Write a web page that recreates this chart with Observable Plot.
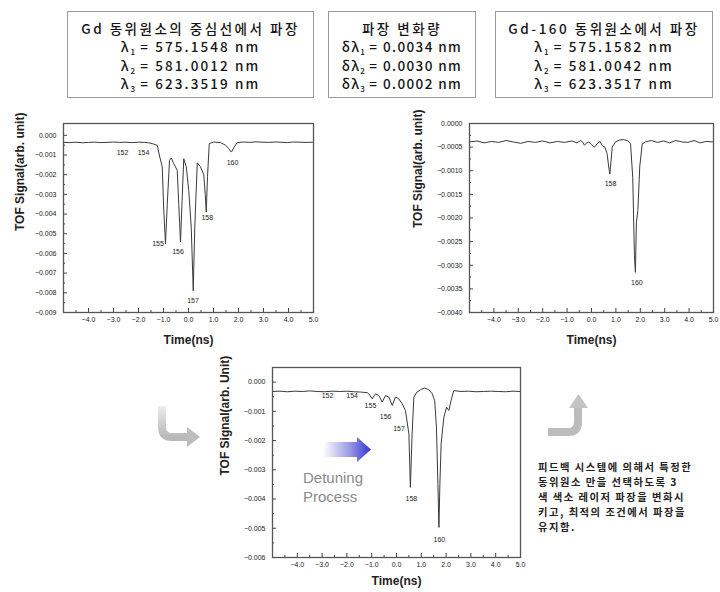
<!DOCTYPE html>
<html><head><meta charset="utf-8">
<script src="https://cdn.jsdelivr.net/npm/d3@7"></script>
<script src="https://cdn.jsdelivr.net/npm/@observablehq/plot@0.6"></script>
<style>
html,body{margin:0;padding:0;background:#fff;}
#root{position:relative;width:720px;height:592px;overflow:hidden;background:#fff;font-family:"Noto Sans CJK KR","Noto Sans",sans-serif;}
.box{position:absolute;border:1.5px solid #9a9a9a;box-sizing:border-box;text-align:center;color:#151515;font-size:13.5px;font-weight:500;padding-top:7px;white-space:nowrap;}
.box div{height:18.4px;line-height:18.4px;overflow:visible;}
.box .t{letter-spacing:2.5px;}
.box .l{letter-spacing:2.1px;}
.box .d{letter-spacing:1.4px;}
.box sub{font-size:8px;vertical-align:baseline;position:relative;top:3px;letter-spacing:0;line-height:0;}
.pl{position:absolute;}
#deco{position:absolute;left:0;top:0;}
</style></head><body><div id="root"></div>
<script>
// ---------- data ----------
const xTicks = [-4, -3, -2, -1, 0, 1, 2, 3, 4, 5];
const xMinor = [-4.5, -3.5, -2.5, -1.5, -0.5, 0.5, 1.5, 2.5, 3.5, 4.5];

const naturalYTicks = [0, -0.001, -0.002, -0.003, -0.004, -0.005, -0.006, -0.007, -0.008, -0.009];
const naturalYMinor = [-0.0005, -0.0015, -0.0025, -0.0035, -0.0045, -0.0055, -0.0065, -0.0075, -0.0085];
const gd160YTicks = [0, -0.0005, -0.001, -0.0015, -0.002, -0.0025, -0.003, -0.0035, -0.004];
const gd160YMinor = [-0.00025, -0.00075, -0.00125, -0.00175, -0.00225, -0.00275, -0.00325, -0.00375];
const detunedYTicks = [0, -0.001, -0.002, -0.003, -0.004, -0.005, -0.006];
const detunedYMinor = [-0.0005, -0.0015, -0.0025, -0.0035, -0.0045, -0.0055];

const naturalTime = [-5.0,-4.75,-4.5,-4.25,-4.0,-3.75,-3.5,-3.25,-3.0,-2.75,-2.5,-2.25,-2.0,-1.75,-1.6,-1.45,-1.25,-1.15,-1.05,-0.99,-0.92,-0.85,-0.76,-0.69,-0.59,-0.45,-0.39,-0.32,-0.25,-0.19,-0.09,0.01,0.11,0.19,0.25,0.35,0.48,0.61,0.67,0.71,0.76,0.83,1.01,1.28,1.48,1.61,1.72,1.81,1.95,2.2,2.45,2.7,2.95,3.2,3.45,3.7,3.95,4.2,4.45,4.7,4.95,5.0];
const naturalSignal = [-0.00036,-0.00037,-0.00035,-0.00038,-0.00036,-0.00035,-0.00037,-0.00036,-0.00034,-0.00036,-0.00035,-0.00037,-0.00035,-0.00036,-0.00038,-0.00042,-0.00051,-0.0011,-0.0016,-0.0038,-0.0055,-0.0035,-0.00127,-0.00115,-0.00144,-0.00178,-0.0035,-0.00542,-0.0031,-0.00119,-0.0016,-0.0028,-0.0047,-0.0079,-0.0047,-0.0014,-0.0016,-0.002,-0.003,-0.0039,-0.0021,-0.00042,-0.00034,-0.00037,-0.0005,-0.00068,-0.00085,-0.00063,-0.00037,-0.00034,-0.00036,-0.00033,-0.00035,-0.00036,-0.00034,-0.00035,-0.00037,-0.00034,-0.00035,-0.00036,-0.00035,-0.00035];
const naturalPeakLabels = ["152","154","155","156","157","158","160"];
const naturalPeakX = [-2.64,-1.8,-1.22,-0.42,0.18,0.75,1.76];
const naturalPeakY = [-0.0009,-0.0009,-0.0055,-0.0059,-0.0084,-0.0042,-0.0014];

const gd160Time = [-5.0,-4.7,-4.4,-4.1,-3.8,-3.5,-3.2,-2.9,-2.6,-2.3,-2.0,-1.7,-1.4,-1.1,-0.8,-0.6,-0.45,-0.35,-0.29,-0.2,-0.11,0.0,0.12,0.23,0.35,0.44,0.55,0.64,0.7,0.75,0.8,0.85,0.98,1.15,1.32,1.5,1.6,1.69,1.76,1.8,1.84,1.9,1.98,2.08,2.21,2.45,2.7,2.95,3.2,3.45,3.7,3.95,4.2,4.45,4.7,5.0];
const gd160Signal = [-0.00039,-0.00037,-0.00041,-0.00038,-0.0004,-0.00036,-0.00039,-0.00042,-0.00038,-0.0004,-0.00037,-0.00041,-0.00038,-0.0004,-0.00037,-0.00041,-0.00036,-0.0004,-0.00046,-0.00041,-0.00039,-0.00045,-0.0005,-0.00043,-0.00038,-0.00047,-0.0005,-0.00064,-0.0009,-0.00107,-0.0008,-0.0005,-0.00039,-0.00035,-0.00034,-0.00037,-0.00043,-0.00114,-0.0028,-0.00315,-0.0021,-0.00184,-0.0009,-0.00043,-0.00039,-0.00036,-0.0004,-0.00037,-0.00041,-0.00036,-0.00039,-0.0004,-0.00036,-0.00041,-0.00038,-0.00039];
const gd160PeakLabels = ["158","160"];
const gd160PeakX = [0.78,1.86];
const gd160PeakY = [-0.00127,-0.00336];

const detunedTime = [-5.0,-4.7,-4.4,-4.1,-3.8,-3.5,-3.2,-2.9,-2.6,-2.3,-2.0,-1.7,-1.45,-1.18,-1.12,-0.98,-0.85,-0.71,-0.58,-0.44,-0.31,-0.17,-0.04,0.09,0.23,0.36,0.5,0.56,0.63,0.7,0.83,0.97,1.13,1.3,1.44,1.54,1.61,1.67,1.71,1.75,1.8,1.91,2.02,2.11,2.2,2.31,2.6,2.9,3.2,3.5,3.8,4.1,4.4,4.7,5.0];
const detunedSignal = [-0.00032,-0.00031,-0.00033,-0.00031,-0.00032,-0.0003,-0.00032,-0.00033,-0.00031,-0.00032,-0.00031,-0.00033,-0.00034,-0.00036,-0.0004,-0.00057,-0.0004,-0.00046,-0.00068,-0.00046,-0.00051,-0.0008,-0.00051,-0.00057,-0.00074,-0.00097,-0.00177,-0.0036,-0.00177,-0.00051,-0.00034,-0.00026,-0.0002,-0.00026,-0.0004,-0.00063,-0.00154,-0.00348,-0.00497,-0.00348,-0.00211,-0.0012,-0.00086,-0.00097,-0.00063,-0.00029,-0.00032,-0.00031,-0.00033,-0.00032,-0.00031,-0.00032,-0.00033,-0.00031,-0.00032];
const detunedPeakLabels = ["152","154","155","156","157","158","160"];
const detunedPeakX = [-2.78,-1.79,-1.05,-0.44,0.1,0.6,1.73];
const detunedPeakY = [-0.00045,-0.00045,-0.00082,-0.0012,-0.0016,-0.004,-0.0054];

const box1Lines = ["Gd 동위원소의 중심선에서 파장", ["λ","1"," = 575.1548 nm"], ["λ","2"," = 581.0012 nm"], ["λ","3"," = 623.3519 nm"]];
const box2Lines = ["파장 변화량", ["δλ","1"," = 0.0034 nm"], ["δλ","2"," = 0.0030 nm"], ["δλ","3"," = 0.0002 nm"]];
const box3Lines = ["Gd-160 동위원소에서 파장", ["λ","1"," = 575.1582 nm"], ["λ","2"," = 581.0042 nm"], ["λ","3"," = 623.3517 nm"]];
const captionLines = ["피드백 시스템에 의해서 특정한", "동위원소 만을 선택하도록 3", "색 색소 레이저 파장을 변화시", "키고, 최적의 조건에서 파장을", "유지함."];
const xTitle = "Time(ns)";
const yTitle = "TOF Signal(arb. unit)";
const yTitleBottom = "TOF Signal(arb. Unit)";

// ---------- build ----------
const root = document.getElementById("root");
const font = "'Liberation Sans', Arial, sans-serif";

function table(ts, vs) { return ts.map((t, i) => ({t, v: vs[i]})); }
function labelTable(names, xs, ys) { return names.map((n, i) => ({n, x: xs[i], y: ys[i]})); }

function chart(o) {
  const svg = Plot.plot({
    width: o.width, height: o.height,
    marginLeft: o.ml, marginRight: o.mr, marginTop: o.mt, marginBottom: o.mb,
    style: {fontFamily: font, fontSize: "7px", color: "#222", background: "transparent", overflow: "visible"},
    x: {domain: [-5, 5]},
    y: {domain: o.yDomain},
    marks: [
      Plot.axisX(xTicks, {tickFormat: d3.format(".1f"), tickSize: -4, tickPadding: 9, label: null, fontSize: 7, stroke: "#444"}),
      Plot.axisX(xMinor, {tickFormat: () => "", tickSize: -2, label: null, stroke: "#444"}),
      Plot.axisY(o.yTicks, {tickFormat: d3.format(o.yFmt), tickSize: -4, tickPadding: 11, label: null, fontSize: 7, stroke: "#444"}),
      Plot.axisY(o.yMinor, {tickFormat: () => "", tickSize: -2, label: null, stroke: "#444"}),
      Plot.line(table(o.ts, o.vs), {x: "t", y: "v", stroke: "#3a3a3a", strokeWidth: 1}),
      Plot.frame({stroke: "#555", strokeWidth: 1.3}),
      Plot.text(labelTable(o.ln, o.lx, o.ly), {x: "x", y: "y", text: "n", fontSize: 7, fill: "#222"}),
      Plot.text([xTitle], {text: d => d, frameAnchor: "bottom", dy: o.xtDy, fontWeight: "bold", fontSize: 12, fill: "#222"}),
      Plot.text([o.yTitle], {text: d => d, frameAnchor: "left", rotate: -90, dx: o.ytDx, dy: o.ytDy, fontWeight: "bold", fontSize: 12, fill: "#222"})
    ]
  });
  svg.classList.add("pl");
  svg.style.left = o.left + "px";
  svg.style.top = o.top + "px";
  root.appendChild(svg);
}

chart({left: 0, top: 110, width: 330, height: 250, ml: 63, mr: 17, mt: 13, mb: 48,
  yDomain: [-0.009, 0.0006], yTicks: naturalYTicks, yMinor: naturalYMinor, yFmt: ".3f",
  ts: naturalTime, vs: naturalSignal, ln: naturalPeakLabels, lx: naturalPeakX, ly: naturalPeakY,
  xtDy: 31, yTitle: yTitle, ytDx: -43, ytDy: 13});
chart({left: 380, top: 110, width: 340, height: 250, ml: 89, mr: 7, mt: 13, mb: 48,
  yDomain: [-0.004, 0], yTicks: gd160YTicks, yMinor: gd160YMinor, yFmt: ".4f",
  ts: gd160Time, vs: gd160Signal, ln: gd160PeakLabels, lx: gd160PeakX, ly: gd160PeakY,
  xtDy: 31, yTitle: yTitle, ytDx: -51, ytDy: 10});
chart({left: 200, top: 360, width: 330, height: 232, ml: 72, mr: 10, mt: 7, mb: 35,
  yDomain: [-0.006, 0.0005], yTicks: detunedYTicks, yMinor: detunedYMinor, yFmt: ".3f",
  ts: detunedTime, vs: detunedSignal, ln: detunedPeakLabels, lx: detunedPeakX, ly: detunedPeakY,
  xtDy: 27, yTitle: yTitleBottom, ytDx: -47, ytDy: 13});

// top boxes
function box(lines, left, top, w, h, rowClass) {
  const d = document.createElement("div");
  d.className = "box";
  Object.assign(d.style, {left: left + "px", top: top + "px", width: w + "px", height: h + "px"});
  lines.forEach((l, i) => {
    const row = document.createElement("div");
    if (typeof l === "string") { row.textContent = l; row.className = "t"; }
    else { row.innerHTML = `${l[0]}<sub>${l[1]}</sub>${l[2]}`; row.className = rowClass; }
    d.appendChild(row);
  });
  root.appendChild(d);
}
box(box1Lines, 67, 11, 247, 87, "l");
box(box2Lines, 328, 11, 148, 87, "d");
box(box3Lines, 495, 11, 218, 87, "l");

// decorations
const ns = "http://www.w3.org/2000/svg";
const deco = document.createElementNS(ns, "svg");
deco.setAttribute("id", "deco");
deco.setAttribute("width", 720);
deco.setAttribute("height", 592);
deco.innerHTML = `
<defs>
 <linearGradient id="blue" x1="0" x2="1" y1="0" y2="0">
  <stop offset="0" stop-color="#ffffff"/><stop offset="0.55" stop-color="#9a9ae6"/><stop offset="1" stop-color="#3434d4"/>
 </linearGradient>
 <linearGradient id="grayV" x1="0" x2="0" y1="0" y2="1">
  <stop offset="0" stop-color="#ececec"/><stop offset="1" stop-color="#b9b9b9"/>
 </linearGradient>
</defs>
<path d="M323,442 L357,442 L357,437 L371,449.5 L357,462 L357,457 L323,457 Z" fill="url(#blue)"/>
<text x="303" y="483" font-family="Liberation Sans, Arial" font-size="15" fill="#8a8a8a">Detuning</text>
<text x="303" y="502" font-family="Liberation Sans, Arial" font-size="15" fill="#8a8a8a">Process</text>
<path d="M162,406 L162,427 Q162,437 172,437 L189,437" fill="none" stroke="url(#grayV)" stroke-width="8"/>
<path d="M187,427 L200,437 L187,447 Z" fill="#bdbdbd"/>
<path d="M548,432 L568,432 Q578,432 578,422 L578,406" fill="none" stroke="#bcbcbc" stroke-width="8"/>
<path d="M569,408 L578.5,394 L588,408 Z" fill="#c4c4c4"/>
`;
captionLines.forEach((s, i) => {
  const t = document.createElementNS(ns, "text");
  t.setAttribute("x", 538);
  t.setAttribute("y", 471 + i * 15);
  t.setAttribute("font-family", "Noto Sans CJK KR, sans-serif");
  t.setAttribute("font-size", "10.3");
  t.setAttribute("font-weight", "700");
  t.setAttribute("letter-spacing", "1.5");
  t.setAttribute("fill", "#222");
  t.textContent = s;
  deco.appendChild(t);
});
root.appendChild(deco);
</script></body></html>
